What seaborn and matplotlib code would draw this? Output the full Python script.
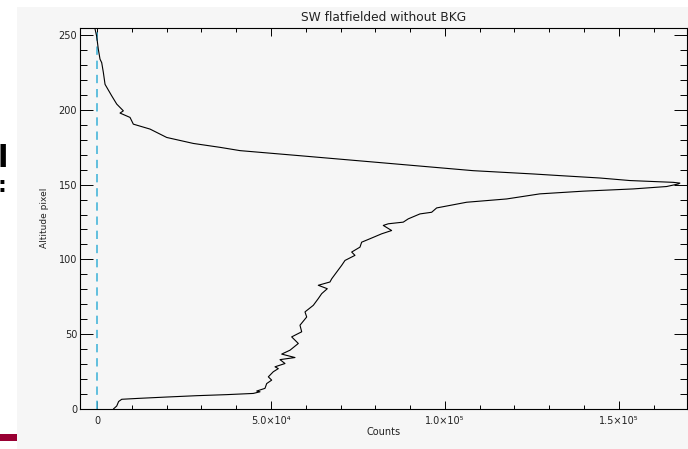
import matplotlib
matplotlib.use("Agg")
import matplotlib.pyplot as plt
from matplotlib.ticker import MultipleLocator
from matplotlib.patches import Rectangle
import seaborn as sns
import pandas as pd

# ---- data ----
counts = [4700, 5660, 6200, 7100, 11900, 20000, 28650, 37270, 44900, 46850,
          45900, 48280, 48770, 50200, 49240, 50670, 52110, 51160, 54030, 52600,
          56900, 53080, 55470, 57860, 55950, 58830, 58340, 60270, 59780, 62170,
          63600, 64580, 66190, 63600, 66960, 67450, 68880, 70320, 71280, 74150,
          73200, 75590, 76070, 78460, 81820, 84690, 82280, 83720, 88030, 89470,
          92830, 96190, 97630, 106250, 117750, 127300, 139760, 154130, 163720, 167070,
          167550,
          165630, 153190, 144560, 133060, 125390, 108150, 81330, 58340, 41100, 35350,
          27680, 20030, 15230, 10430, 9480, 6610, 7560, 5660, 4220, 2300,
          1810, 1340, 860, 370, -100, -575]
altitude = [0, 2, 5, 6.5, 7.1, 8.0, 8.9, 9.6, 10.4, 11.5,
            12, 13.8, 17, 19.3, 21.5, 24.9, 27, 28.2, 30.4, 33,
            34.4, 36.7, 39.3, 43.8, 48.2, 51.6, 56, 61.5, 64.9, 69.3,
            73.8, 77.1, 80.4, 82.7, 84.9, 87, 91.5, 96, 99.3, 102.7,
            104.9, 108.2, 111.5, 113.8, 117.1, 119.3, 122.7, 123.8, 124.9, 127.1,
            130.4, 131.5, 134.4, 138.2, 140.4, 143.8, 145.6, 147.1, 148.7, 150.4,
            151,
            151.5, 152.7, 154.4, 156, 157.1, 159.3, 164.7, 169.3, 172.7, 174.9,
            177.5, 181.5, 187.1, 190.4, 194.9, 197.8, 199.3, 203.8, 209.3, 217,
            225, 231.5, 233.8, 240.4, 249, 254]
ref_x = [0]
x_ticks = [0, 50000, 100000, 150000]
x_tick_labels = ["0", "5.0×10⁴", "1.0×10⁵", "1.5×10⁵"]
y_ticks = [0, 50, 100, 150, 200, 250]

title = "SW flatfielded without BKG"
xlabel = "Counts"
ylabel = "Altitude pixel"

df = pd.DataFrame({"Counts": counts, "Altitude": altitude})

sns.set_theme(style="white")
plt.rcParams["font.family"] = ["DejaVu Sans"]

panel = "#f6f6f6"
fig = plt.figure(figsize=(6.88, 4.49), dpi=100, facecolor="white")
# slide background panel (behind the axes)
fig.patches.append(Rectangle((17 / 688, 0), 1, (449 - 7) / 449,
                             transform=fig.transFigure, facecolor=panel,
                             edgecolor="none", zorder=-10))
fig.patches.append(Rectangle((0, (449 - 441) / 449), 17 / 688, 7 / 449,
                             transform=fig.transFigure, facecolor="#990033",
                             edgecolor="none", zorder=-9))
# cut-off slide text fragments at the left edge
fig.text(-0.004, (449 - 167) / 449, "l", fontsize=22, fontweight="bold",
         color="black", ha="left", va="baseline")
fig.text(-0.004, (449 - 192) / 449, ":", fontsize=16, fontweight="bold",
         color="black", ha="left", va="baseline")

ax = fig.add_axes([80 / 688, 40 / 449, 607 / 688, 381.5 / 449])
ax.set_facecolor(panel)
ax.set_zorder(1)

sns.lineplot(data=df, x="Counts", y="Altitude", sort=False, estimator=None,
             color="black", lw=0.8, ax=ax)
for xv in ref_x:
    ax.axvline(xv, color="#47b6da", lw=1.2, ls=(0, (5, 3.5)), zorder=1)

ax.set_xlim(-4900, 169600)
ax.set_ylim(0, 255)
ax.set_xticks(x_ticks)
ax.set_xticklabels(x_tick_labels)
ax.set_yticks(y_ticks)
ax.xaxis.set_minor_locator(MultipleLocator(10000))
ax.yaxis.set_minor_locator(MultipleLocator(10))

ax.tick_params(which="both", direction="in", top=True, right=True,
               bottom=True, left=True,
               color="black", width=0.7, labelsize=7, labelcolor="#222222")
ax.tick_params(axis="x", which="major", length=5.5, pad=5)
ax.tick_params(axis="x", which="minor", length=2.8)
ax.tick_params(axis="y", which="major", length=9.5, pad=2)
ax.tick_params(axis="y", which="minor", length=4.8)

for sp in ax.spines.values():
    sp.set_visible(True)
    sp.set_color("black")
    sp.set_linewidth(0.8)

ax.set_title(title, fontsize=8.8, color="#222222", pad=5)
ax.set_xlabel(xlabel, fontsize=7, color="#222222", labelpad=1)
ax.set_ylabel(ylabel, fontsize=6.5, color="#222222", labelpad=7)

fig.savefig("out.png", dpi=100, facecolor="white")
